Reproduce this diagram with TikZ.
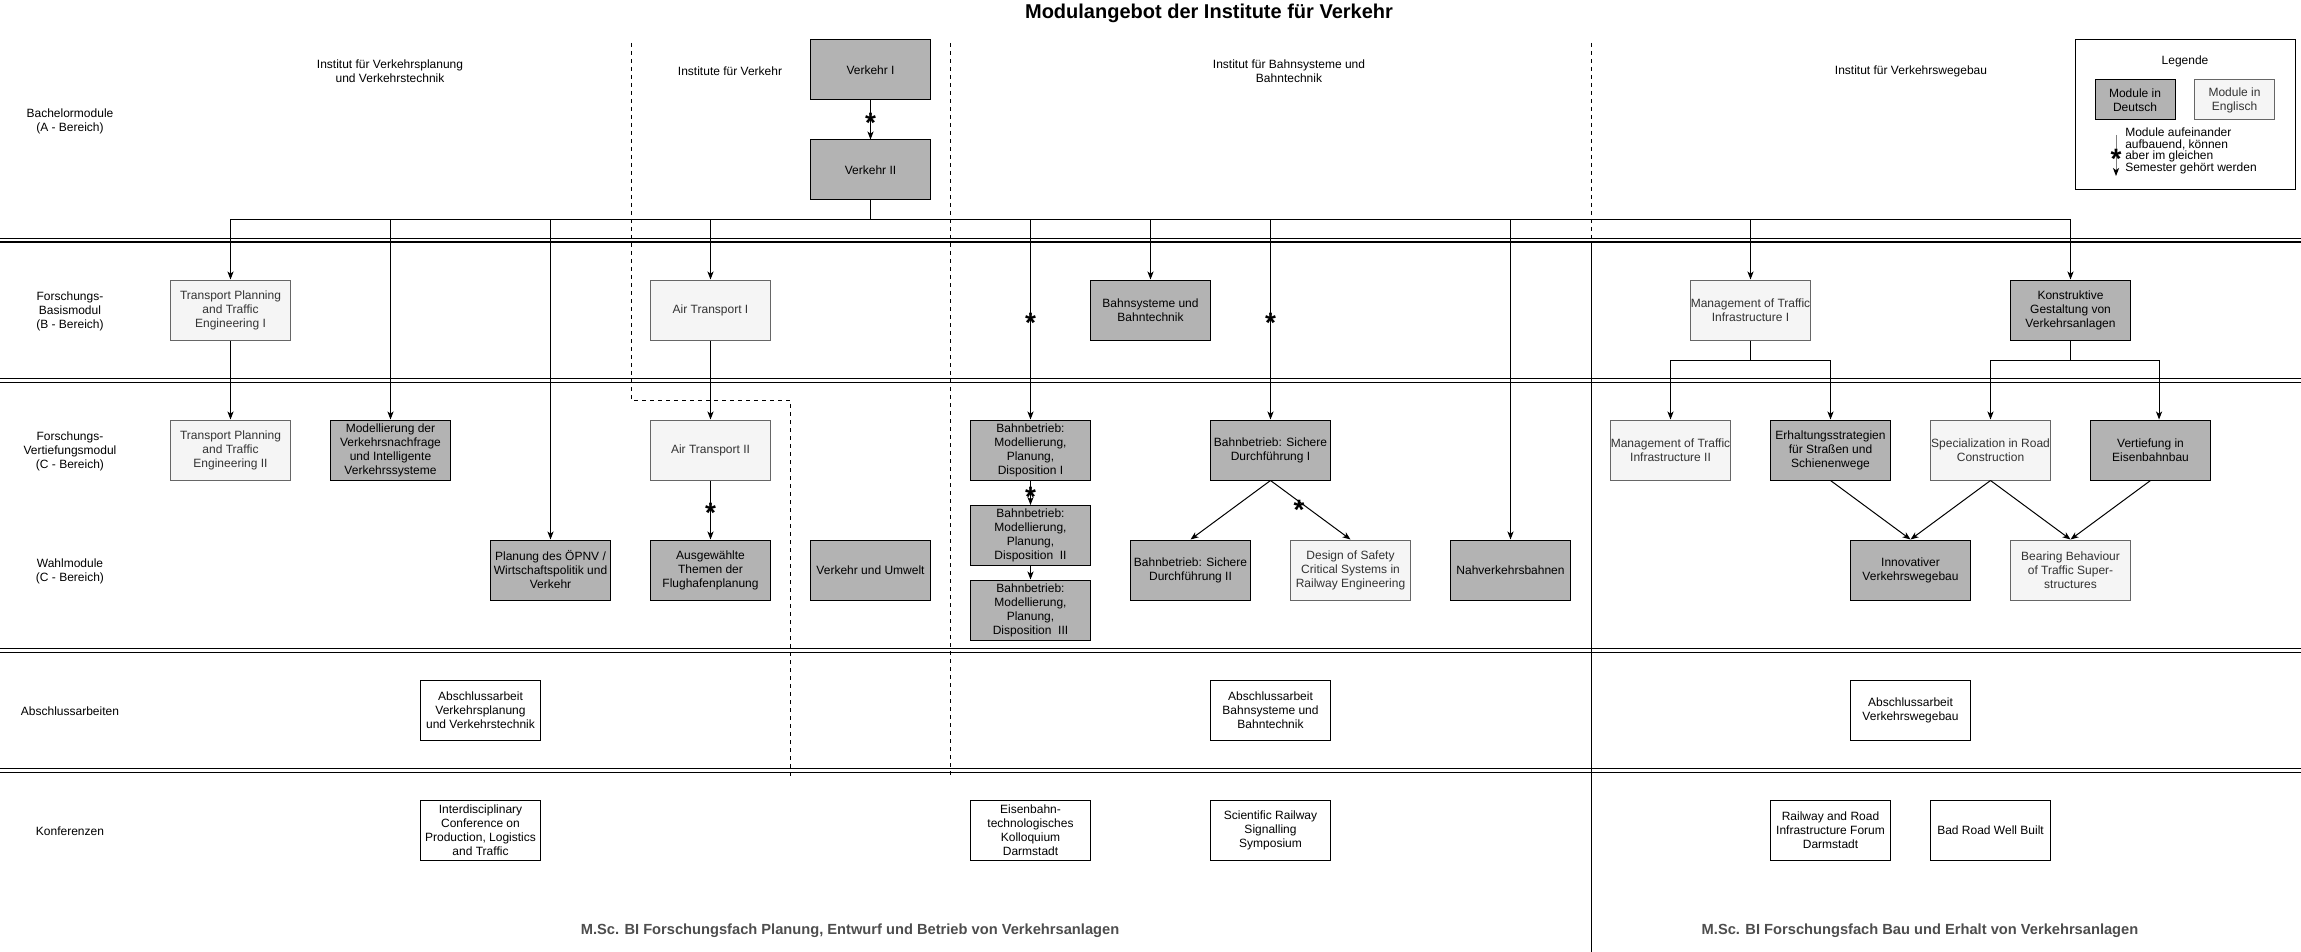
\documentclass[tikz,border=0pt]{standalone}
\usepackage{fontspec}
\setmainfont{Liberation Sans}
\usetikzlibrary{arrows.meta,calc}
\definecolor{darkfill}{HTML}{B3B3B3}
\definecolor{lightfill}{HTML}{F5F5F5}
\definecolor{lightdraw}{HTML}{666666}
\definecolor{lighttext}{HTML}{333333}
\definecolor{foottext}{HTML}{4D4D4D}
\begin{document}
\begin{tikzpicture}[x=0.75pt,y=-0.75pt,
  every node/.style={font=\fontsize{9pt}{10.5pt}\selectfont, align=center, inner sep=0pt},
  modbox/.style={draw, line width=0.75pt, minimum width=90pt, minimum height=45pt},
  dmod/.style={modbox, fill=darkfill, draw=black, text=black},
  lmod/.style={modbox, fill=lightfill, draw=lightdraw, text=lighttext},
  wmod/.style={modbox, fill=white, draw=black, text=black},
  lbl/.style={text=black},
  arr/.style={draw, line width=0.75pt, -{Stealth[length=6pt,width=4.6pt,inset=1.6pt,color=black]}},
  ast/.style={font=\bfseries\fontsize{21pt}{21pt}\selectfont, inner sep=0pt, yshift=-4.6pt},
  sep/.style={line width=0.9pt},
  divider/.style={line width=0.75pt, dashed, dash pattern=on 3pt off 3pt},
  foot/.style={font=\bfseries\fontsize{11pt}{12pt}\selectfont, text=foottext}
]
\useasboundingbox (0,0) rectangle (2301,952);

% separators (double lines)
\foreach \ya/\yb in {238.3/242, 378.3/382.3, 648.7/652.5, 768.7/772.3}{
  \draw[sep] (0,\ya) -- (2301,\ya);
  \draw[sep] (0,\yb) -- (2301,\yb);
}
% dashed and solid dividers
\draw[divider] (631,43) -- (631,400) -- (790,400) -- (790,776);
\draw[divider] (950,43) -- (950,778);
\draw[divider] (1591,43) -- (1591,247);
\draw[line width=0.75pt] (1591,247) -- (1591,952);

% title
\node[font=\bfseries\fontsize{15pt}{18pt}\selectfont] (title) at (1209,13) {Modulangebot der Institute für Verkehr};

% institute headers
\node[lbl] (hivv) at (390,71) {Institut für Verkehrsplanung\\und Verkehrstechnik};
\node[lbl] (hifv) at (730,71) {Institute für Verkehr};
\node[lbl] (hibb) at (1289,71) {Institut für Bahnsysteme und\\Bahntechnik};
\node[lbl] (hivw) at (1911,71) {Institut für Verkehrswegebau};

% row labels
\node[lbl] (rA) at (70,121) {Bachelormodule\\(A - Bereich)};
\node[lbl] (rB) at (70,311) {Forschungs-\\Basismodul\\(B - Bereich)};
\node[lbl] (rC) at (70,451) {Forschungs-\\Vertiefungsmodul\\(C - Bereich)};
\node[lbl] (rW) at (70,571) {Wahlmodule\\(C - Bereich)};
\node[lbl] (rAb) at (70,711) {Abschlussarbeiten};
\node[lbl] (rK) at (70,831) {Konferenzen};

% modules
\node[dmod] (v1) at (870.5,70) {Verkehr I};
\node[dmod] (v2) at (870.5,170) {Verkehr II};

\node[lmod] (tp1) at (230.5,310) {Transport Planning\\and Traffic\\Engineering I};
\node[lmod] (tp2) at (230.5,450) {Transport Planning\\and Traffic\\Engineering II};
\node[dmod] (mod) at (390.5,450) {Modellierung der\\Verkehrsnachfrage\\und Intelligente\\Verkehrssysteme};
\node[dmod] (oepnv) at (550.5,570) {Planung des ÖPNV /\\Wirtschaftspolitik und\\Verkehr};
\node[lmod] (at1) at (710.5,310) {Air Transport I};
\node[lmod] (at2) at (710.5,450) {Air Transport II};
\node[dmod] (flug) at (710.5,570) {Ausgewählte\\Themen der\\Flughafenplanung};
\node[dmod] (vu) at (870.5,570) {Verkehr und Umwelt};

\node[dmod] (bst) at (1150.5,310) {Bahnsysteme und\\Bahntechnik};
\node[dmod] (mpd1) at (1030.5,450) {Bahnbetrieb:\\Modellierung,\\Planung,\\Disposition I};
\node[dmod] (mpd2) at (1030.5,535.5) {Bahnbetrieb:\\Modellierung,\\Planung,\\Disposition~ II};
\node[dmod] (mpd3) at (1030.5,610) {Bahnbetrieb:\\Modellierung,\\Planung,\\Disposition~ III};
\node[dmod] (sd1) at (1270.5,450) {Bahnbetrieb: Sichere\\Durchführung I};
\node[dmod] (sd2) at (1190.5,570) {Bahnbetrieb: Sichere\\Durchführung II};
\node[lmod] (dss) at (1350.5,570) {Design of Safety\\Critical Systems in\\Railway Engineering};
\node[dmod] (nvb) at (1510.5,570) {Nahverkehrsbahnen};

\node[lmod] (mti1) at (1750.5,310) {Management of Traffic\\Infrastructure I};
\node[dmod] (kgv) at (2070.5,310) {Konstruktive\\Gestaltung von\\Verkehrsanlagen};
\node[lmod] (mti2) at (1670.5,450) {Management of Traffic\\Infrastructure II};
\node[dmod] (erh) at (1830.5,450) {Erhaltungsstrategien\\für Straßen und\\Schienenwege};
\node[lmod] (spec) at (1990.5,450) {Specialization in Road\\Construction};
\node[dmod] (veb) at (2150.5,450) {Vertiefung in\\Eisenbahnbau};
\node[dmod] (ivwb) at (1910.5,570) {Innovativer\\Verkehrswegebau};
\node[lmod] (bb) at (2070.5,570) {Bearing Behaviour\\of Traffic Super-\\structures};

% theses
\node[wmod] (aa1) at (480.5,710) {Abschlussarbeit\\Verkehrsplanung\\und Verkehrstechnik};
\node[wmod] (aa2) at (1270.5,710) {Abschlussarbeit\\Bahnsysteme und\\Bahntechnik};
\node[wmod] (aa3) at (1910.5,710) {Abschlussarbeit\\Verkehrswegebau};

% conferences
\node[wmod] (k1) at (480.5,830) {Interdisciplinary\\Conference on\\Production, Logistics\\and Traffic};
\node[wmod] (k2) at (1030.5,830) {Eisenbahn-\\technologisches\\Kolloquium\\Darmstadt};
\node[wmod] (k3) at (1270.5,830) {Scientific Railway\\Signalling\\Symposium};
\node[wmod] (k4) at (1830.5,830) {Railway and Road\\Infrastructure Forum\\Darmstadt};
\node[wmod] (k5) at (1990.5,830) {Bad Road Well Built};

% footers
\node[foot] (f1) at (850,931) {M.Sc. BI Forschungsfach Planung, Entwurf und Betrieb von Verkehrsanlagen};
\node[foot] (f2) at (1920,931) {M.Sc. BI Forschungsfach Bau und Erhalt von Verkehrsanlagen};

% legend
\node[draw, line width=0.75pt, minimum width=165pt, minimum height=112.5pt] (legend) at (2185,115) {};
\node[lbl] (legt) at (2185,61) {Legende};
\node[dmod, minimum width=60pt, minimum height=30pt] (ld) at (2135,100) {Module in\\Deutsch};
\node[lmod, minimum width=60pt, minimum height=30pt] (le) at (2234.5,100) {Module in\\Englisch};
\coordinate (la) at (2116,135);
\coordinate (lb) at (2116,176);
\draw[arr, draw=gray] (la) -- (lb);
\node[ast] (last) at (2116,153) {*};
\node[lbl, anchor=west, align=left, font=\fontsize{9pt}{8.8pt}\selectfont] (legtxt) at (2125,151) {Module aufeinander\\aufbauend, können\\aber im gleichen\\Semester gehört werden};

% connectors
\coordinate (bus) at (0,220);
\draw[arr] (v1) -- (v2);
\node[ast] (a1) at (870.5,117) {*};

\foreach \t in {tp1,mod,oepnv,at1,mpd1,bst,sd1,nvb,mti1,kgv}{
  \draw[arr] (v2.south) -- (v2.south |- bus) -| (\t.north);
}
\node[ast] (a2) at (1030.5,317) {*};
\node[ast] (a3) at (1270.5,317) {*};

\draw[arr] (tp1) -- (tp2);
\draw[arr] (at1) -- (at2);
\draw[arr] (at2) -- (flug);
\node[ast] (a4) at (710.5,506.7) {*};
\draw[arr] (mpd1) -- (mpd2);
\node[ast] (a5) at (1030.5,491) {*};
\draw[arr] (mpd2) -- (mpd3);

\draw[arr] (sd1.south) -- (sd2.north);
\draw[arr] (sd1.south) -- (dss.north);
\node[ast] (a6) at (1299,504) {*};

\coordinate (mtiy) at (0,360);
\draw[arr] (mti1.south) -- (mti1.south |- mtiy) -| (mti2.north);
\draw[arr] (mti1.south) -- (mti1.south |- mtiy) -| (erh.north);
\draw[arr] (kgv.south) -- (kgv.south |- mtiy) -| (spec.north);
\draw[arr] (kgv.south) -- (kgv.south |- mtiy) -| ([xshift=6.4pt]veb.north);

\draw[arr] (erh.south) -- (ivwb.north);
\draw[arr] (spec.south) -- (ivwb.north);
\draw[arr] (spec.south) -- (bb.north);
\draw[arr] (veb.south) -- (bb.north);
\end{tikzpicture}
\end{document}
